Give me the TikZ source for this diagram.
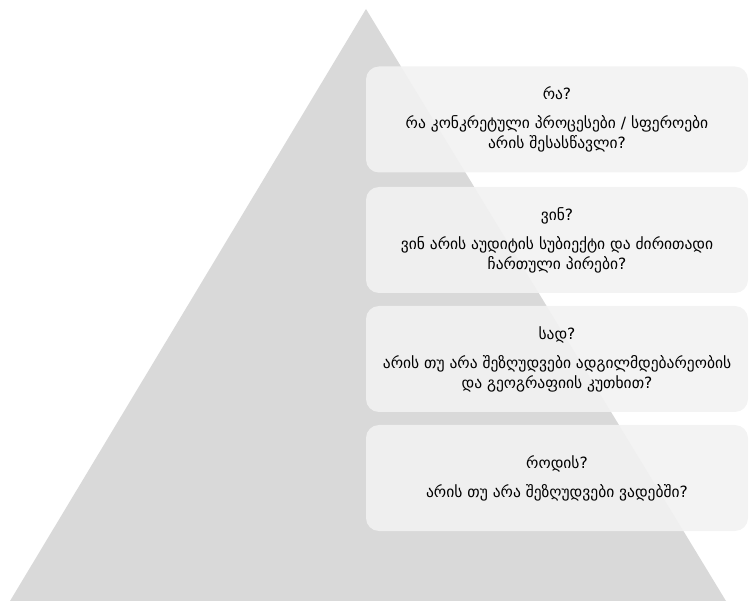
\documentclass[tikz,border=0pt]{standalone}
\usepackage{fontspec}
\newfontfamily\geofont{DejaVu Sans}
\definecolor{pyramidgray}{HTML}{D9D9D9}
\definecolor{boxgray}{HTML}{F2F2F2}
\tikzset{
	level/.style={fill=boxgray, fill opacity=0.9, text opacity=1, rounded corners=13pt,
		minimum width=382pt, minimum height=106pt, inner sep=0pt, align=center,
		font=\geofont\fontsize{15.5}{20}\selectfont},
}

\begin{document}
\begin{tikzpicture}[x=1pt, y=-1pt]
	%%%%% START %%%%%
	\useasboundingbox (0, 0) rectangle (750, 601);
	
	\fill[pyramidgray] (10, 601) -- (366, 9) -- (726, 601) -- cycle;
	
	\node[level] (ra) at (557, 119.5) {რა?\\[9pt]რა კონკრეტული პროცესები / სფეროები\\არის შესასწავლი?};
	\node[level] (vin) at (557, 240) {ვინ?\\[9pt]ვინ არის აუდიტის სუბიექტი და ძირითადი\\ჩართული პირები?};
	\node[level] (sad) at (557, 359) {სად?\\[9pt]არის თუ არა შეზღუდვები ადგილმდებარეობის\\და გეოგრაფიის კუთხით?};
	\node[level] (rodis) at (557, 478) {როდის?\\[9pt]არის თუ არა შეზღუდვები ვადებში?};
	
	%%%%% END %%%%%
\end{tikzpicture}
\end{document}
